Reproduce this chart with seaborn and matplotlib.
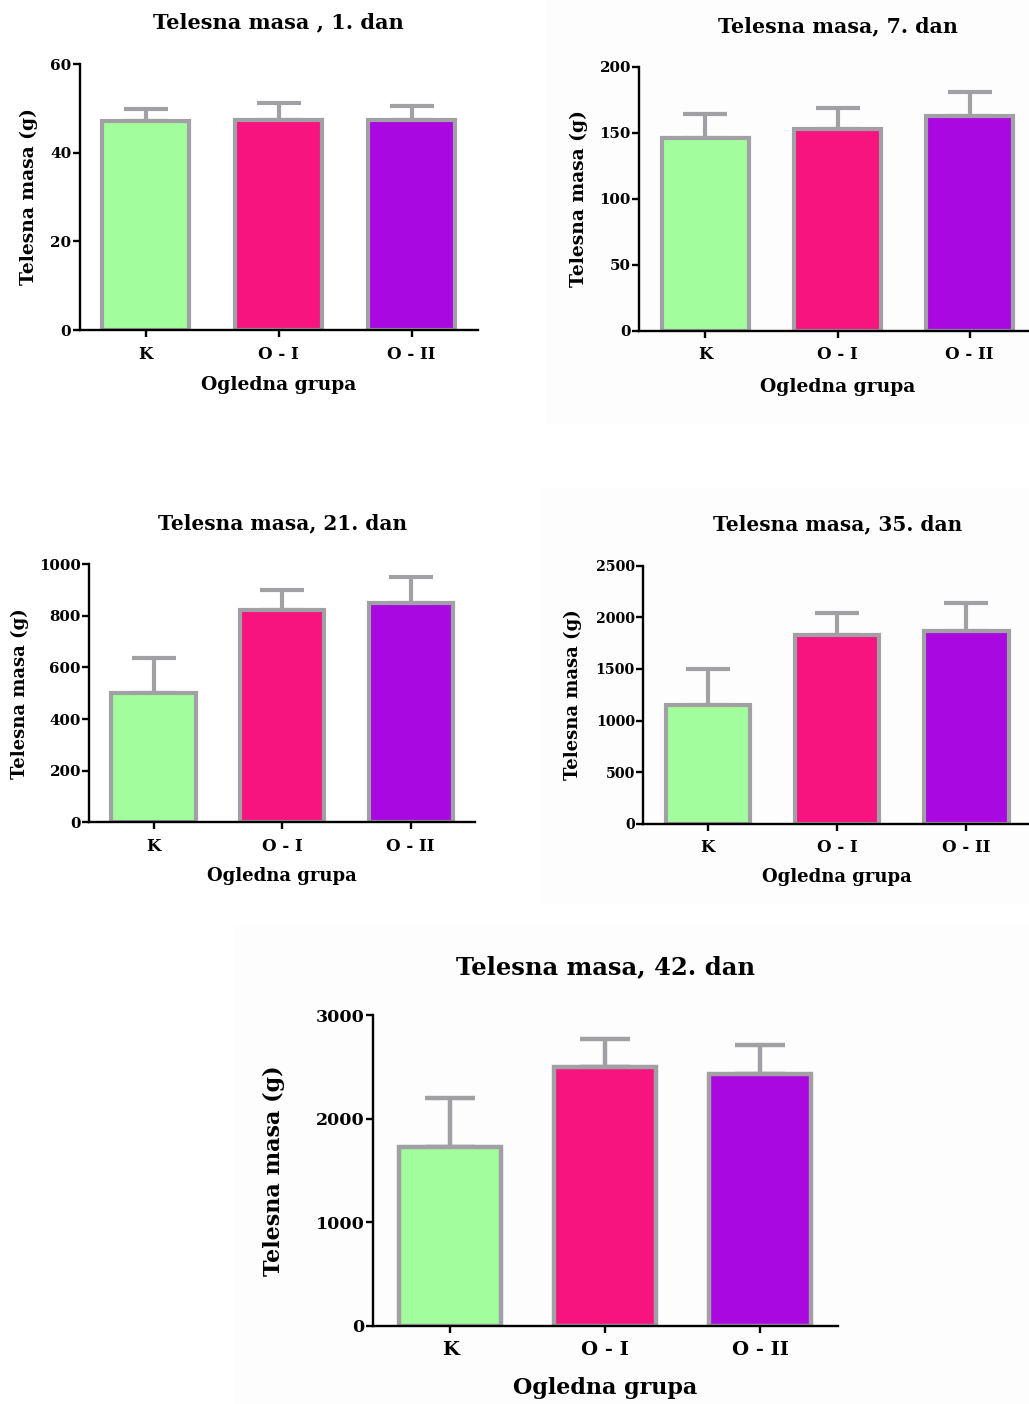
import matplotlib
matplotlib.use("Agg")
import matplotlib.pyplot as plt
from matplotlib.patches import Rectangle
import seaborn as sns
import pandas as pd

# ---------------- data ----------------
groups = ["K", "O - I", "O - II"]
bar_colors = ["#a2fd9c", "#f7147e", "#aa08e0"]

titles = ["Telesna masa , 1. dan", "Telesna masa, 7. dan", "Telesna masa, 21. dan",
          "Telesna masa, 35. dan", "Telesna masa, 42. dan"]

mean_d1 = [47.2, 47.4, 47.4]
sd_d1 = [2.6, 3.7, 3.1]
mean_d7 = [146, 153, 163]
sd_d7 = [18, 16, 18]
mean_d21 = [503, 823, 851]
sd_d21 = [134, 77, 99]
mean_d35 = [1153, 1825, 1870]
sd_d35 = [349, 213, 265]
mean_d42 = [1728, 2501, 2430]
sd_d42 = [467, 264, 283]

yticks_d1 = [0, 20, 40, 60]
yticks_d7 = [0, 50, 100, 150, 200]
yticks_d21 = [0, 200, 400, 600, 800, 1000]
yticks_d35 = [0, 500, 1000, 1500, 2000, 2500]
yticks_d42 = [0, 1000, 2000, 3000]

ylabel = "Telesna masa (g)"
xlabel = "Ogledna grupa"

# ---------------- style ----------------
sns.set_theme(style="ticks")
plt.rcParams["font.family"] = ["DejaVu Serif", "Liberation Serif"]
plt.rcParams["font.weight"] = "bold"

W, H = 1029, 1404
fig = plt.figure(figsize=(W / 100, H / 100), dpi=100)
fig.patch.set_facecolor("white")

# very faint grey page backgrounds behind some panels
for (x0, y0, x1, y1) in [(546, 0, 1029, 425), (540, 488, 1029, 905), (235, 925, 1029, 1404)]:
    fig.add_artist(Rectangle((x0 / W, 1 - y1 / H), (x1 - x0) / W, (y1 - y0) / H,
                             transform=fig.transFigure, facecolor="#fdfdfd",
                             edgecolor="none", zorder=-10))

edge_col = "#a0a0a5"

# fs = (title, xlabel, ylabel, xticks, yticks)
panels = [
    dict(box=(79.5, 478.0, 64.0, 330.0), means=mean_d1, sds=sd_d1, yt=yticks_d1,
         title_off=42, ylab_off=51, xlab_off=55, fs=(15, 13.5, 13.5, 12, 11), cap=15.5, lw=3.0),
    dict(box=(639.3, 1035.7, 66.7, 330.7), means=mean_d7, sds=sd_d7, yt=yticks_d7,
         title_off=40, ylab_off=60, xlab_off=56, fs=(14.8, 13.5, 13.5, 12, 10.8), cap=15.5, lw=3.0),
    dict(box=(89.3, 475.0, 564.3, 822.3), means=mean_d21, sds=sd_d21, yt=yticks_d21,
         title_off=41, ylab_off=69, xlab_off=54, fs=(14.5, 13, 13, 12, 10.8), cap=15.5, lw=3.0),
    dict(box=(643.3, 1031.0, 565.7, 823.7), means=mean_d35, sds=sd_d35, yt=yticks_d35,
         title_off=41, ylab_off=70, xlab_off=53, fs=(14.5, 13, 13, 12, 10.2), cap=15.5, lw=3.0),
    dict(box=(372.7, 837.7, 1015.0, 1325.7), means=mean_d42, sds=sd_d42, yt=yticks_d42,
         title_off=48, ylab_off=99, xlab_off=62, fs=(17.5, 16, 16, 14, 12.5), cap=18, lw=3.2),
]

for title, p in zip(titles, panels):
    l, r, t, b = p["box"]
    wpx, hpx = r - l, b - t
    ax = fig.add_axes([l / W, 1 - b / H, wpx / W, hpx / H])
    ax.set_facecolor("none")
    df = pd.DataFrame({"grupa": groups, "masa": p["means"]})
    sns.barplot(data=df, x="grupa", y="masa", hue="grupa", palette=bar_colors,
                legend=False, errorbar=None, width=0.655, edgecolor=edge_col,
                linewidth=p["lw"], saturation=1, ax=ax, zorder=2)
    ax.errorbar(range(len(groups)), p["means"], yerr=[[0] * len(groups), p["sds"]],
                fmt="none", ecolor=edge_col, elinewidth=p["lw"], capsize=p["cap"],
                capthick=p["lw"], zorder=1)
    ax.set_xlim(-0.5, 2.5)
    ax.set_ylim(p["yt"][0], p["yt"][-1])
    ax.set_yticks(p["yt"])
    ft, fxl, fyl, fxk, fyk = p["fs"]
    ax.set_yticklabels([str(v) for v in p["yt"]], fontsize=fyk, fontweight="bold")
    ax.set_xticks(range(len(groups)))
    ax.set_xticklabels(groups, fontsize=fxk, fontweight="bold")
    for s in ["top", "right"]:
        ax.spines[s].set_visible(False)
    for s in ["left", "bottom"]:
        ax.spines[s].set_color("black")
        ax.spines[s].set_linewidth(1.7)
        ax.spines[s].set_zorder(5)
    ax.tick_params(axis="y", length=5.2, width=1.7, pad=0.8, colors="black")
    ax.tick_params(axis="x", length=5.2, width=1.7, pad=6.0, colors="black")

    ax.set_xlabel(xlabel, fontsize=fxl, fontweight="bold", color="black")
    ax.set_ylabel(ylabel, fontsize=fyl, fontweight="bold", color="black")
    ax.xaxis.label.set_va("center")
    ax.yaxis.label.set_va("center")
    ax.xaxis.set_label_coords(0.5, -p["xlab_off"] / hpx)
    ax.yaxis.set_label_coords(-p["ylab_off"] / wpx, 0.5)
    ax.set_title(title, fontsize=ft, fontweight="bold", color="black",
                 y=1 + p["title_off"] / hpx, va="center", pad=0)

fig.savefig("out.png", dpi=100, facecolor="white")
